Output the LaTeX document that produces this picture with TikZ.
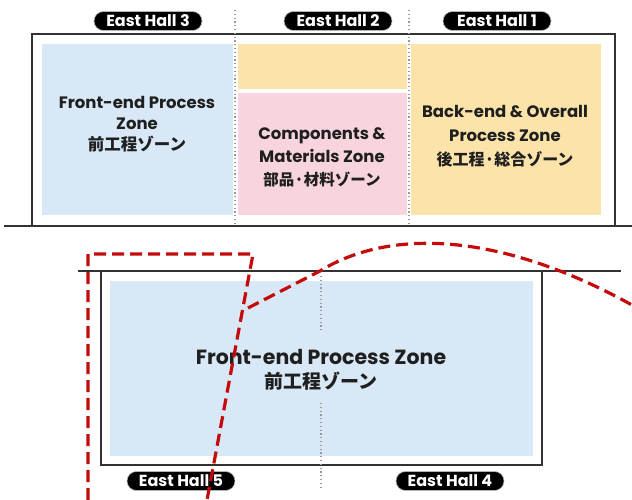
\documentclass[tikz,border=0pt]{standalone}
\usepackage{fontspec}
\setmainfont{Poppins}
\newfontfamily\jp{Noto Sans CJK JP}
\definecolor{zblue}{RGB}{216,232,246}
\definecolor{zorange}{RGB}{252,227,170}
\definecolor{zpink}{RGB}{248,212,222}
\definecolor{zred}{RGB}{196,10,10}
\definecolor{zline}{RGB}{50,50,50}
\begin{document}
\begin{tikzpicture}[x=1pt,y=-1pt,
  outline/.style={draw=zline,line width=1.6pt},
  dotline/.style={draw=gray!80,line width=1.2pt,dash pattern=on 1.2pt off 2.6pt},
  pill/.style={fill=black,draw=gray!60,line width=0.6pt,text=white,rounded corners=9.5pt,
    minimum height=19pt,minimum width=108pt,inner sep=0pt,font=\fontsize{16}{16}\selectfont\bfseries},
  zonetext/.style={align=center,text=black!88,font=\fontsize{16.5}{21}\selectfont\bfseries},
  bigtext/.style={align=center,text=black!88,font=\fontsize{20.5}{24}\selectfont\bfseries},
  reddash/.style={draw=zred,line width=3.2pt,dash pattern=on 12pt off 6pt}]
\useasboundingbox (0,0) rectangle (632,500);
\fill[white] (0,0) rectangle (632,500);
% top building
\fill[zblue] (42,44) rectangle (233,215);
\fill[zorange] (238,44) rectangle (407,89);
\fill[zpink] (238,93) rectangle (407,215);
\fill[zorange] (411,44) rectangle (601,215);
\draw[outline] (32,226) -- (32,34) -- (615,34) -- (615,226);
\draw[outline] (4,226) -- (632,226);
\draw[dotline] (235,10) -- (235,226);
\draw[dotline] (409,10) -- (409,226);
\node[pill] (h3) at (148,21) {East Hall 3};
\node[pill] (h2) at (338,21) {East Hall 2};
\node[pill] (h1) at (497,21) {East Hall 1};
\node[zonetext] (z3) at (137,124) {Front-end Process\\Zone\\{\jp\fontsize{16.5}{21}\selectfont 前工程ゾーン}};
\node[zonetext,font=\fontsize{16.5}{23}\selectfont\bfseries] (z2) at (322,157) {Components \&\\Materials Zone\\{\jp\fontsize{15.5}{23}\selectfont 部品·材料ゾーン}};
\node[zonetext,font=\fontsize{16.5}{24}\selectfont\bfseries] (z1) at (505,136) {Back-end \& Overall\\Process Zone\\{\jp\fontsize{16}{24}\selectfont 後工程·総合ゾーン}};
% bottom building
\fill[zblue] (110,281) rectangle (533,456);
\draw[outline] (78,271) -- (621,271);
\draw[outline] (101,271) -- (101,465) -- (542,465) -- (542,271);
\draw[dotline] (321,276) -- (321,332);
\draw[dotline] (321,403) -- (321,488);
\node[bigtext] (z45) at (321,370) {Front-end Process Zone\\{\jp\fontsize{19}{24}\selectfont 前工程ゾーン}};
\node[pill] (h5) at (181,481) {East Hall 5};
\node[pill] (h4) at (450,481) {East Hall 4};
% red dashed marks
\draw[reddash] (88,500) -- (88,254) -- (253,254) -- (207,500);
\draw[reddash] (248,308) -- (320,271) .. controls (390,228) and (500,232) .. (632,305);
\end{tikzpicture}
\end{document}
